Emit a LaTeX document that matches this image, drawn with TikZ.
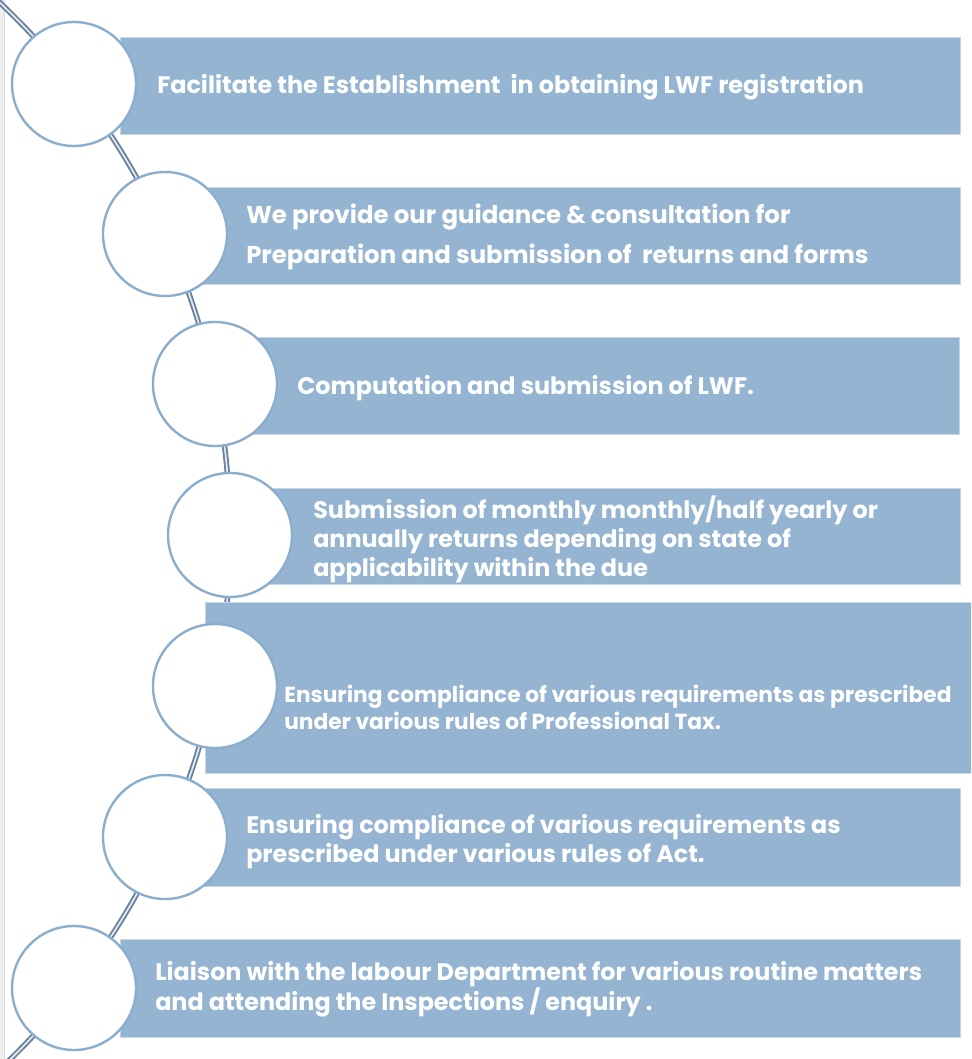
\documentclass[tikz,border=0pt]{standalone}
\usepackage{fontspec}
\setmainfont{Poppins}
\definecolor{boxfill}{RGB}{148,180,209}
\definecolor{boxedge}{RGB}{196,214,232}
\definecolor{ringline}{RGB}{140,174,206}
\definecolor{railline}{RGB}{104,130,156}
\definecolor{railgap}{RGB}{226,233,240}
\definecolor{margin}{RGB}{238,238,238}
\newcommand\stepfont{\bfseries\fontsize{17.9}{21.75}\selectfont}
\begin{document}
\begin{tikzpicture}[x=0.75pt,y=-0.75pt,
  bar/.style={fill=boxfill,draw=boxedge,line width=0.6pt},
  ring/.style={circle,fill=white,draw=ringline,line width=1.8pt,minimum size=124*0.75pt,inner sep=0pt},
  rail/.style={draw=railline,line width=1.4pt,double=railgap,double distance=1.3pt},
  label/.style={anchor=west,align=left,text=white,inner sep=0pt,font=\stepfont}]
\useasboundingbox (0,0) rectangle (971,1059);
\begin{scope}
\clip (0,0) rectangle (971,1059);
% page margin strip
\fill[margin] (0,0) rectangle (5,1059);
\draw[gray!30,line width=0.5pt] (4.5,0) -- (4.5,1059);
% curved rail along which the circles sit
\draw[rail] (-503,536) circle[radius=733];
% text bars
\path[bar] (120,37) rectangle (960,134);
\path[bar] (190,187) rectangle (960,284);
\path[bar] (240,337) rectangle (959,434);
\path[bar] (255,488) rectangle (960,584);
\path[bar] (205,602) rectangle (971,773);
\path[bar] (190,788) rectangle (960,886);
\path[bar] (120,939) rectangle (960,1037);
\end{scope}
% circles
\node[ring] (c1) at (74,84) {};
\node[ring] (c2) at (165,234) {};
\node[ring] (c3) at (215,384) {};
\node[ring] (c4) at (230,535) {};
\node[ring] (c5) at (215,686) {};
\node[ring] (c6) at (165,837) {};
\node[ring] (c7) at (74,988) {};
% texts
\node[label] (t1) at (157,87) {Facilitate the Establishment\ \ in obtaining LWF registration};
\node[label,font=\bfseries\fontsize{18.3}{30}\selectfont] (t2) at (246,237) {We provide our guidance \& consultation for\\Preparation and submission of\ \ returns and forms};
\node[label] (t3) at (297,388) {Computation and submission of LWF.};
\node[label] (t4) at (313,539) {Submission of monthly monthly/half yearly or\\annually returns depending on state of\\applicability within the due};
\node[label,font=\bfseries\fontsize{16.3}{20.25}\selectfont] (t5) at (284,707) {Ensuring compliance of various requirements as prescribed\\under various rules of Professional Tax.};
\node[label] (t6) at (246,841.5) {Ensuring compliance of various requirements as\\prescribed under various rules of Act.};
\node[label] (t7) at (155,989.5) {Liaison with the labour Department for various routine matters\\and attending the Inspections / enquiry .};
\end{tikzpicture}
\end{document}
